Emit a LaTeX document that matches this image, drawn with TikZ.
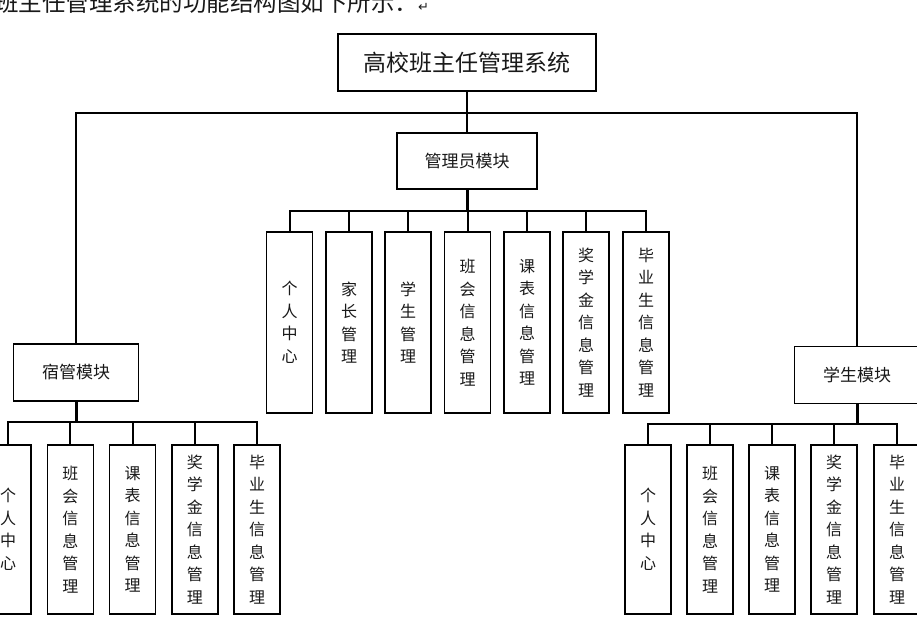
\documentclass[tikz,border=0pt]{standalone}
\usepackage{fontspec}
\setmainfont{Noto Sans CJK SC}
\newfontfamily\symfont{DejaVu Sans}
\usetikzlibrary{positioning,calc}

\tikzset{
  box/.style={draw, line width=1.5pt, inner sep=0pt, fill=white, text=black!90},
  modbox/.style={box, minimum width=125pt, minimum height=57pt, font=\fontsize{17}{20}\selectfont},
  leaf/.style={box, minimum width=46pt, align=center, font=\fontsize{16}{22.5}\selectfont},
  topleaf/.style={leaf, minimum height=181pt},
  lowleaf/.style={leaf, minimum height=169pt},
  link/.style={line width=2pt},
  trunk/.style={line width=3pt},
}

\begin{document}
\begin{tikzpicture}[x=1pt,y=-1pt]
\useasboundingbox (0,0) rectangle (917,634);

\node[anchor=west, inner sep=0pt, text=black!90, font=\fontsize{23.5}{23.5}\selectfont] (intro) at (-5,3)
  {班主任管理系统的功能结构图如下所示：{\symfont\fontsize{13}{13}\selectfont ↵}};

\node[box, minimum width=258pt, minimum height=57pt, font=\fontsize{23}{26}\selectfont] (root) at (467,62.5) {高校班主任管理系统};

% LEVEL 1

\node[modbox, minimum width=140pt, minimum height=56pt] (adm) at (467,161) {管理员模块};
\node[modbox] (dorm) at (76,372.5) {宿管模块};
\node[modbox] (stu) at (857,375) {学生模块};

\coordinate (top) at (467,113);
\draw[link] (root.south) -- (top);
\draw[link] (top) -- (adm.north);
\draw[link] (top) -| (dorm.north);
\draw[link] (top) -| (stu.north);

% LEVEL 2: admin

\node[topleaf] (a1) at (289.5,322.5) {个\\人\\中\\心};
\node[topleaf] (a2) at (349,322.5)   {家\\长\\管\\理};
\node[topleaf] (a3) at (408,322.5)   {学\\生\\管\\理};
\node[topleaf] (a4) at (467.5,322.5) {班\\会\\信\\息\\管\\理};
\node[topleaf] (a5) at (527,322.5)   {课\\表\\信\\息\\管\\理};
\node[topleaf] (a6) at (586,322.5)   {奖\\学\\金\\信\\息\\管\\理};
\node[topleaf] (a7) at (646,322.5)   {毕\\业\\生\\信\\息\\管\\理};

\coordinate (abus) at (467,211);
\draw[trunk] (adm.south) -- (abus);
\draw[link] (abus) -| (a1.north);
\draw[link] (abus) -| (a2.north);
\draw[link] (abus) -| (a3.north);
\draw[link] (abus) -| (a4.north);
\draw[link] (abus) -| (a5.north);
\draw[link] (abus) -| (a6.north);
\draw[link] (abus) -| (a7.north);

% LEVEL 2: dormitory

\node[lowleaf] (d1) at (8,529.5)     {个\\人\\中\\心};
\node[lowleaf] (d2) at (70.3,529.5)  {班\\会\\信\\息\\管\\理};
\node[lowleaf] (d3) at (132.5,529.5) {课\\表\\信\\息\\管\\理};
\node[lowleaf] (d4) at (194.8,529.5) {奖\\学\\金\\信\\息\\管\\理};
\node[lowleaf] (d5) at (257,529.5)   {毕\\业\\生\\信\\息\\管\\理};

\coordinate (dbus) at (76,422);
\draw[trunk] (dorm.south) -- (dbus);
\draw[link] (dbus) -| (d1.north);
\draw[link] (dbus) -| (d2.north);
\draw[link] (dbus) -| (d3.north);
\draw[link] (dbus) -| (d4.north);
\draw[link] (dbus) -| (d5.north);

% LEVEL 2: student

\node[lowleaf] (s1) at (648,529.5) {个\\人\\中\\心};
\node[lowleaf] (s2) at (710,529.5) {班\\会\\信\\息\\管\\理};
\node[lowleaf] (s3) at (772,529.5) {课\\表\\信\\息\\管\\理};
\node[lowleaf] (s4) at (834,529.5) {奖\\学\\金\\信\\息\\管\\理};
\node[lowleaf] (s5) at (897,529.5) {毕\\业\\生\\信\\息\\管\\理};

\coordinate (sbus) at (857,424);
\draw[trunk] (stu.south) -- (sbus);
\draw[link] (sbus) -| (s1.north);
\draw[link] (sbus) -| (s2.north);
\draw[link] (sbus) -| (s3.north);
\draw[link] (sbus) -| (s4.north);
\draw[link] (sbus) -| (s5.north);

\end{tikzpicture}
\end{document}
